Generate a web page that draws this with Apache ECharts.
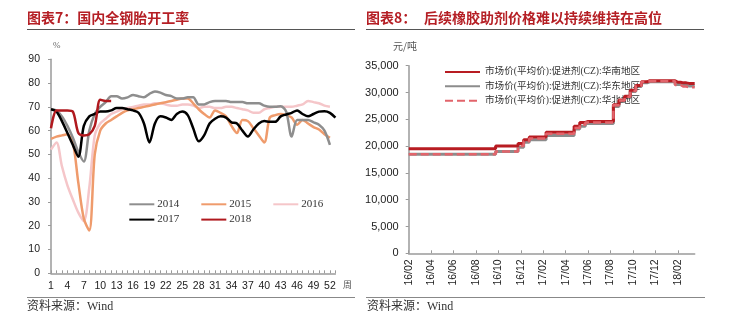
<!DOCTYPE html>
<html><head><meta charset="utf-8">
<script src="https://cdn.jsdelivr.net/npm/echarts@6/dist/echarts.min.js"></script>
<style>html,body{margin:0;padding:0;background:#fff}#c{width:732px;height:326px}</style>
</head><body><div id="c"></div>
<script>
// ---- Left chart data: weekly operating rate (%) ----
const weeks = ['1','2','3','4','5','6','7','8','9','10','11','12','13','14','15','16','17','18','19','20','21','22','23','24','25','26','27','28','29','30','31','32','33','34','35','36','37','38','39','40','41','42','43','44','45','46','47','48','49','50','51','52','53'];
const weekTicks = [0, 10, 20, 30, 40, 50, 60, 70, 80, 90];
const y2014 = [69,68.5,66,62,57,51,47,60,67,70,72,74.5,74.5,73.5,74,75,74.5,74,75.5,76.5,76,75,74.5,73.5,73.5,74,74,71,71,72,72.5,72.5,72.5,72,72,72,71.5,71.5,71.5,70.5,70,70,70.3,68,57.5,64.5,64.5,64.5,63.5,62.5,60,54];
const y2015 = [56.5,57.5,58,58.5,55,38,23,18,50,60,63,64.5,66,67.5,68.5,69,69.5,70,70.5,71,71.5,72,72.5,73,73.5,73.5,71.5,69,67,65.5,68.5,67.5,66,62,59,64.5,64,61,58,55,65.5,66.5,67,66.5,65.5,62.5,64.5,63,61.5,60.5,58.5,57];
const y2016 = [52,55,45,37,31,25.5,22,36,58,63,65,67,68,69,69.5,70,70.5,71,71,71.5,71.5,71,70.5,70.5,71,71,70.5,69.5,70,70,69.5,69.5,70,70,69.5,69,68.5,67.5,67.5,69,69.5,70,70,70,70,70.5,71,72.5,72,71.5,70.5,70];
const y2017 = [69,68,64,59,54,49,62,66,67,68,68,68.5,69.5,69.5,69,68.5,67.5,63,55,63,66,65.5,64.5,67,68,66.5,61,55.5,58,63,65,66,65.5,63.5,63,60,57.5,60.5,63,64,63.7,63.7,66,66.8,67.5,68.5,67,66,67,68,68.2,67.5,65.5];
const y2018 = [61,68.5,68.5,68.5,68,59,58,58.5,62,73,72.5,72.5];

// ---- Right chart data: accelerator CZ market price (yuan/ton) ----
const halfMonths = ['16/02-1','16/02-2','16/03-1','16/03-2','16/04-1','16/04-2','16/05-1','16/05-2','16/06-1','16/06-2','16/07-1','16/07-2','16/08-1','16/08-2','16/09-1','16/09-2','16/10-1','16/10-2','16/11-1','16/11-2','16/12-1','16/12-2','17/01-1','17/01-2','17/02-1','17/02-2','17/03-1','17/03-2','17/04-1','17/04-2','17/05-1','17/05-2','17/06-1','17/06-2','17/07-1','17/07-2','17/08-1','17/08-2','17/09-1','17/09-2','17/10-1','17/10-2','17/11-1','17/11-2','17/12-1','17/12-2','18/01-1','18/01-2','18/02-1','18/02-2','18/03-1','18/03-2'];
const priceSouth = [19500,19500,19500,19500,19500,19500,19500,19500,19500,19500,19500,19500,19500,19500,19500,19500,20000,20000,20000,20000,20500,21200,21700,21700,21700,22600,22600,22600,22600,22600,23700,24400,24600,24600,24600,24600,24600,27700,28600,29300,30400,31300,32000,32200,32200,32200,32200,32200,31900,31800,31700,31700];
const priceEast = [18500,18500,18500,18500,18500,18500,18500,18500,18500,18500,18500,18500,18500,18500,18500,18500,19000,19000,19000,19000,19800,20700,21200,21200,21200,22000,22000,22000,22000,22000,23200,23700,24200,24200,24200,24200,24200,27400,28300,29000,30200,31100,31800,32000,32000,32000,32000,32000,31500,31300,31200,31200];
const priceNorth = [18500,18500,18500,18500,18500,18500,18500,18500,18500,18500,18500,18500,18500,18500,18500,18500,19000,19000,19000,19000,20000,20900,21400,21400,21400,22300,22300,22300,22300,22300,23400,24000,24400,24400,24400,24400,24400,27600,28500,29200,30300,31200,32000,32100,32100,32100,32100,32100,31400,31100,31000,31000];
const nameSouth = '市场价(平均价):促进剂(CZ):华南地区';
const nameEast = '市场价(平均价):促进剂(CZ):华东地区';
const nameNorth = '市场价(平均价):促进剂(CZ):华北地区';

const sans = 'Liberation Sans, Arial, sans-serif';
const serif = 'Liberation Serif, Noto Sans CJK SC, serif';
const red = '#B51F25';
const axisGray = '#9a9a9a';

const chart = echarts.init(document.getElementById('c'), null, {renderer: 'canvas'});
function lineSeries(name, data, color, width, z) {
  return {name, type: 'line', data, xAxisIndex: 0, yAxisIndex: 0, symbol: 'none', smooth: 0.3,
    lineStyle: {color, width}, itemStyle: {color}, z};
}
chart.setOption({
  animation: false,
  grid: [
    {left: 51, top: 59.3, width: 284.4, height: 214},
    {left: 408.7, top: 65.7, width: 286, height: 187.6}
  ],
  xAxis: [
    {type: 'category', gridIndex: 0, data: weeks, boundaryGap: false,
      axisLine: {lineStyle: {color: axisGray, width: 1.5}},
      axisTick: {inside: true, length: 3, interval: 0, lineStyle: {color: axisGray}},
      axisLabel: {interval: 2, color: '#222', fontFamily: sans, fontSize: 10.5, margin: 7,
        formatter: v => v === '53' ? '' : v}},
    {type: 'category', gridIndex: 1, data: halfMonths, boundaryGap: false,
      axisLine: {lineStyle: {color: axisGray, width: 1.5}},
      axisTick: {inside: true, length: 3, interval: 3, lineStyle: {color: axisGray}},
      axisLabel: {interval: 3, rotate: 90, color: '#222', fontFamily: sans, fontSize: 10.5, margin: 6,
        formatter: v => v.slice(0, 5)}}
  ],
  yAxis: [
    {type: 'value', gridIndex: 0, min: weekTicks[0], max: weekTicks[weekTicks.length - 1], interval: 10,
      splitLine: {show: false},
      axisLine: {show: true, lineStyle: {color: axisGray, width: 1.5}},
      axisTick: {show: true, length: 3, lineStyle: {color: axisGray}},
      axisLabel: {color: '#222', fontFamily: sans, fontSize: 10.5, margin: 11}},
    {type: 'value', gridIndex: 1, min: 0, max: 35000, interval: 5000,
      splitLine: {show: false},
      axisLine: {show: true, lineStyle: {color: axisGray, width: 1.5}},
      axisTick: {show: true, length: 3, lineStyle: {color: axisGray}},
      axisLabel: {color: '#222', fontFamily: sans, fontSize: 11, margin: 10,
        formatter: v => v.toString().replace(/\B(?=(\d{3})+(?!\d))/g, ',')}}
  ],
  legend: [
    {data: ['2014', '2015', '2016'], left: 128.3, top: 198.7, padding: 0, itemWidth: 25, itemHeight: 14, itemGap: 21,
      itemStyle: {opacity: 0},
      textStyle: {fontFamily: serif, fontSize: 11, color: '#333', padding: [0, 0, 0, -2]}},
    {data: ['2017', '2018'], left: 128.3, top: 214, padding: 0, itemWidth: 25, itemHeight: 14, itemGap: 21,
      itemStyle: {opacity: 0},
      textStyle: {fontFamily: serif, fontSize: 11, color: '#333', padding: [0, 0, 0, -2]}},
    {data: [nameSouth, nameEast, nameNorth], orient: 'vertical', left: 444, top: 66.3, padding: 0,
      itemWidth: 35, itemHeight: 14, itemGap: 3.2, itemStyle: {opacity: 0},
      textStyle: {fontFamily: serif, fontSize: 9.6, color: '#333'}}
  ],
  series: [
    lineSeries('2016', y2016, '#F5C6C9', 2.5, 2),
    lineSeries('2015', y2015, '#EF9B6C', 2.5, 3),
    lineSeries('2014', y2014, '#8E8E8E', 2.5, 4),
    lineSeries('2017', y2017, '#000000', 2.5, 5),
    lineSeries('2018', y2018, '#B0191E', 2.5, 6),
    {name: nameEast, type: 'line', xAxisIndex: 1, yAxisIndex: 1, data: priceEast, symbol: 'none', step: 'middle',
      lineStyle: {color: '#8C8C8C', width: 3}, itemStyle: {color: '#8C8C8C'}, z: 3},
    {name: nameSouth, type: 'line', xAxisIndex: 1, yAxisIndex: 1, data: priceSouth, symbol: 'none', step: 'middle',
      lineStyle: {color: '#B81C22', width: 3}, itemStyle: {color: '#B81C22'}, z: 4},
    {name: nameNorth, type: 'line', xAxisIndex: 1, yAxisIndex: 1, data: priceNorth, symbol: 'none', step: 'middle',
      lineStyle: {color: '#E2646B', width: 2.5, type: [8, 4]}, itemStyle: {color: '#E2646B'}, z: 5}
  ],
  graphic: [
    {type: 'text', left: 27, top: 11, style: {text: '图表7：国内全钢胎开工率', fill: red,
      font: 'bold 14px "Noto Sans CJK SC", sans-serif'}},
    {type: 'text', left: 366, top: 11, style: {text: '图表8：', fill: red,
      font: 'bold 14px "Noto Sans CJK SC", sans-serif'}},
    {type: 'text', left: 424, top: 11, style: {text: '后续橡胶助剂价格难以持续维持在高位', fill: red,
      font: 'bold 14px "Noto Sans CJK SC", sans-serif'}},
    {type: 'line', shape: {x1: 27, y1: 29.5, x2: 355, y2: 29.5}, style: {stroke: '#555', lineWidth: 1}},
    {type: 'line', shape: {x1: 366, y1: 29.5, x2: 704, y2: 29.5}, style: {stroke: '#555', lineWidth: 1}},
    {type: 'text', left: 53, top: 41, style: {text: '%', fill: '#666', font: '9px "Liberation Serif", serif'}},
    {type: 'text', left: 393, top: 41, style: {text: '元/吨', fill: '#555', font: '10px "Noto Sans CJK SC", sans-serif'}},
    {type: 'text', left: 343, top: 280, style: {text: '周', fill: '#555', font: '9px "Noto Sans CJK SC", sans-serif'}},
    {type: 'line', shape: {x1: 27, y1: 297.5, x2: 355, y2: 297.5}, style: {stroke: '#888', lineWidth: 1}},
    {type: 'line', shape: {x1: 366, y1: 297.5, x2: 705, y2: 297.5}, style: {stroke: '#888', lineWidth: 1}},
    {type: 'text', left: 27, top: 301, style: {text: '资料来源：Wind', fill: '#333',
      font: '12px "Liberation Serif", "Noto Sans CJK SC", serif'}},
    {type: 'text', left: 367, top: 301, style: {text: '资料来源：Wind', fill: '#333',
      font: '12px "Liberation Serif", "Noto Sans CJK SC", serif'}}
  ]
});
</script></body></html>
